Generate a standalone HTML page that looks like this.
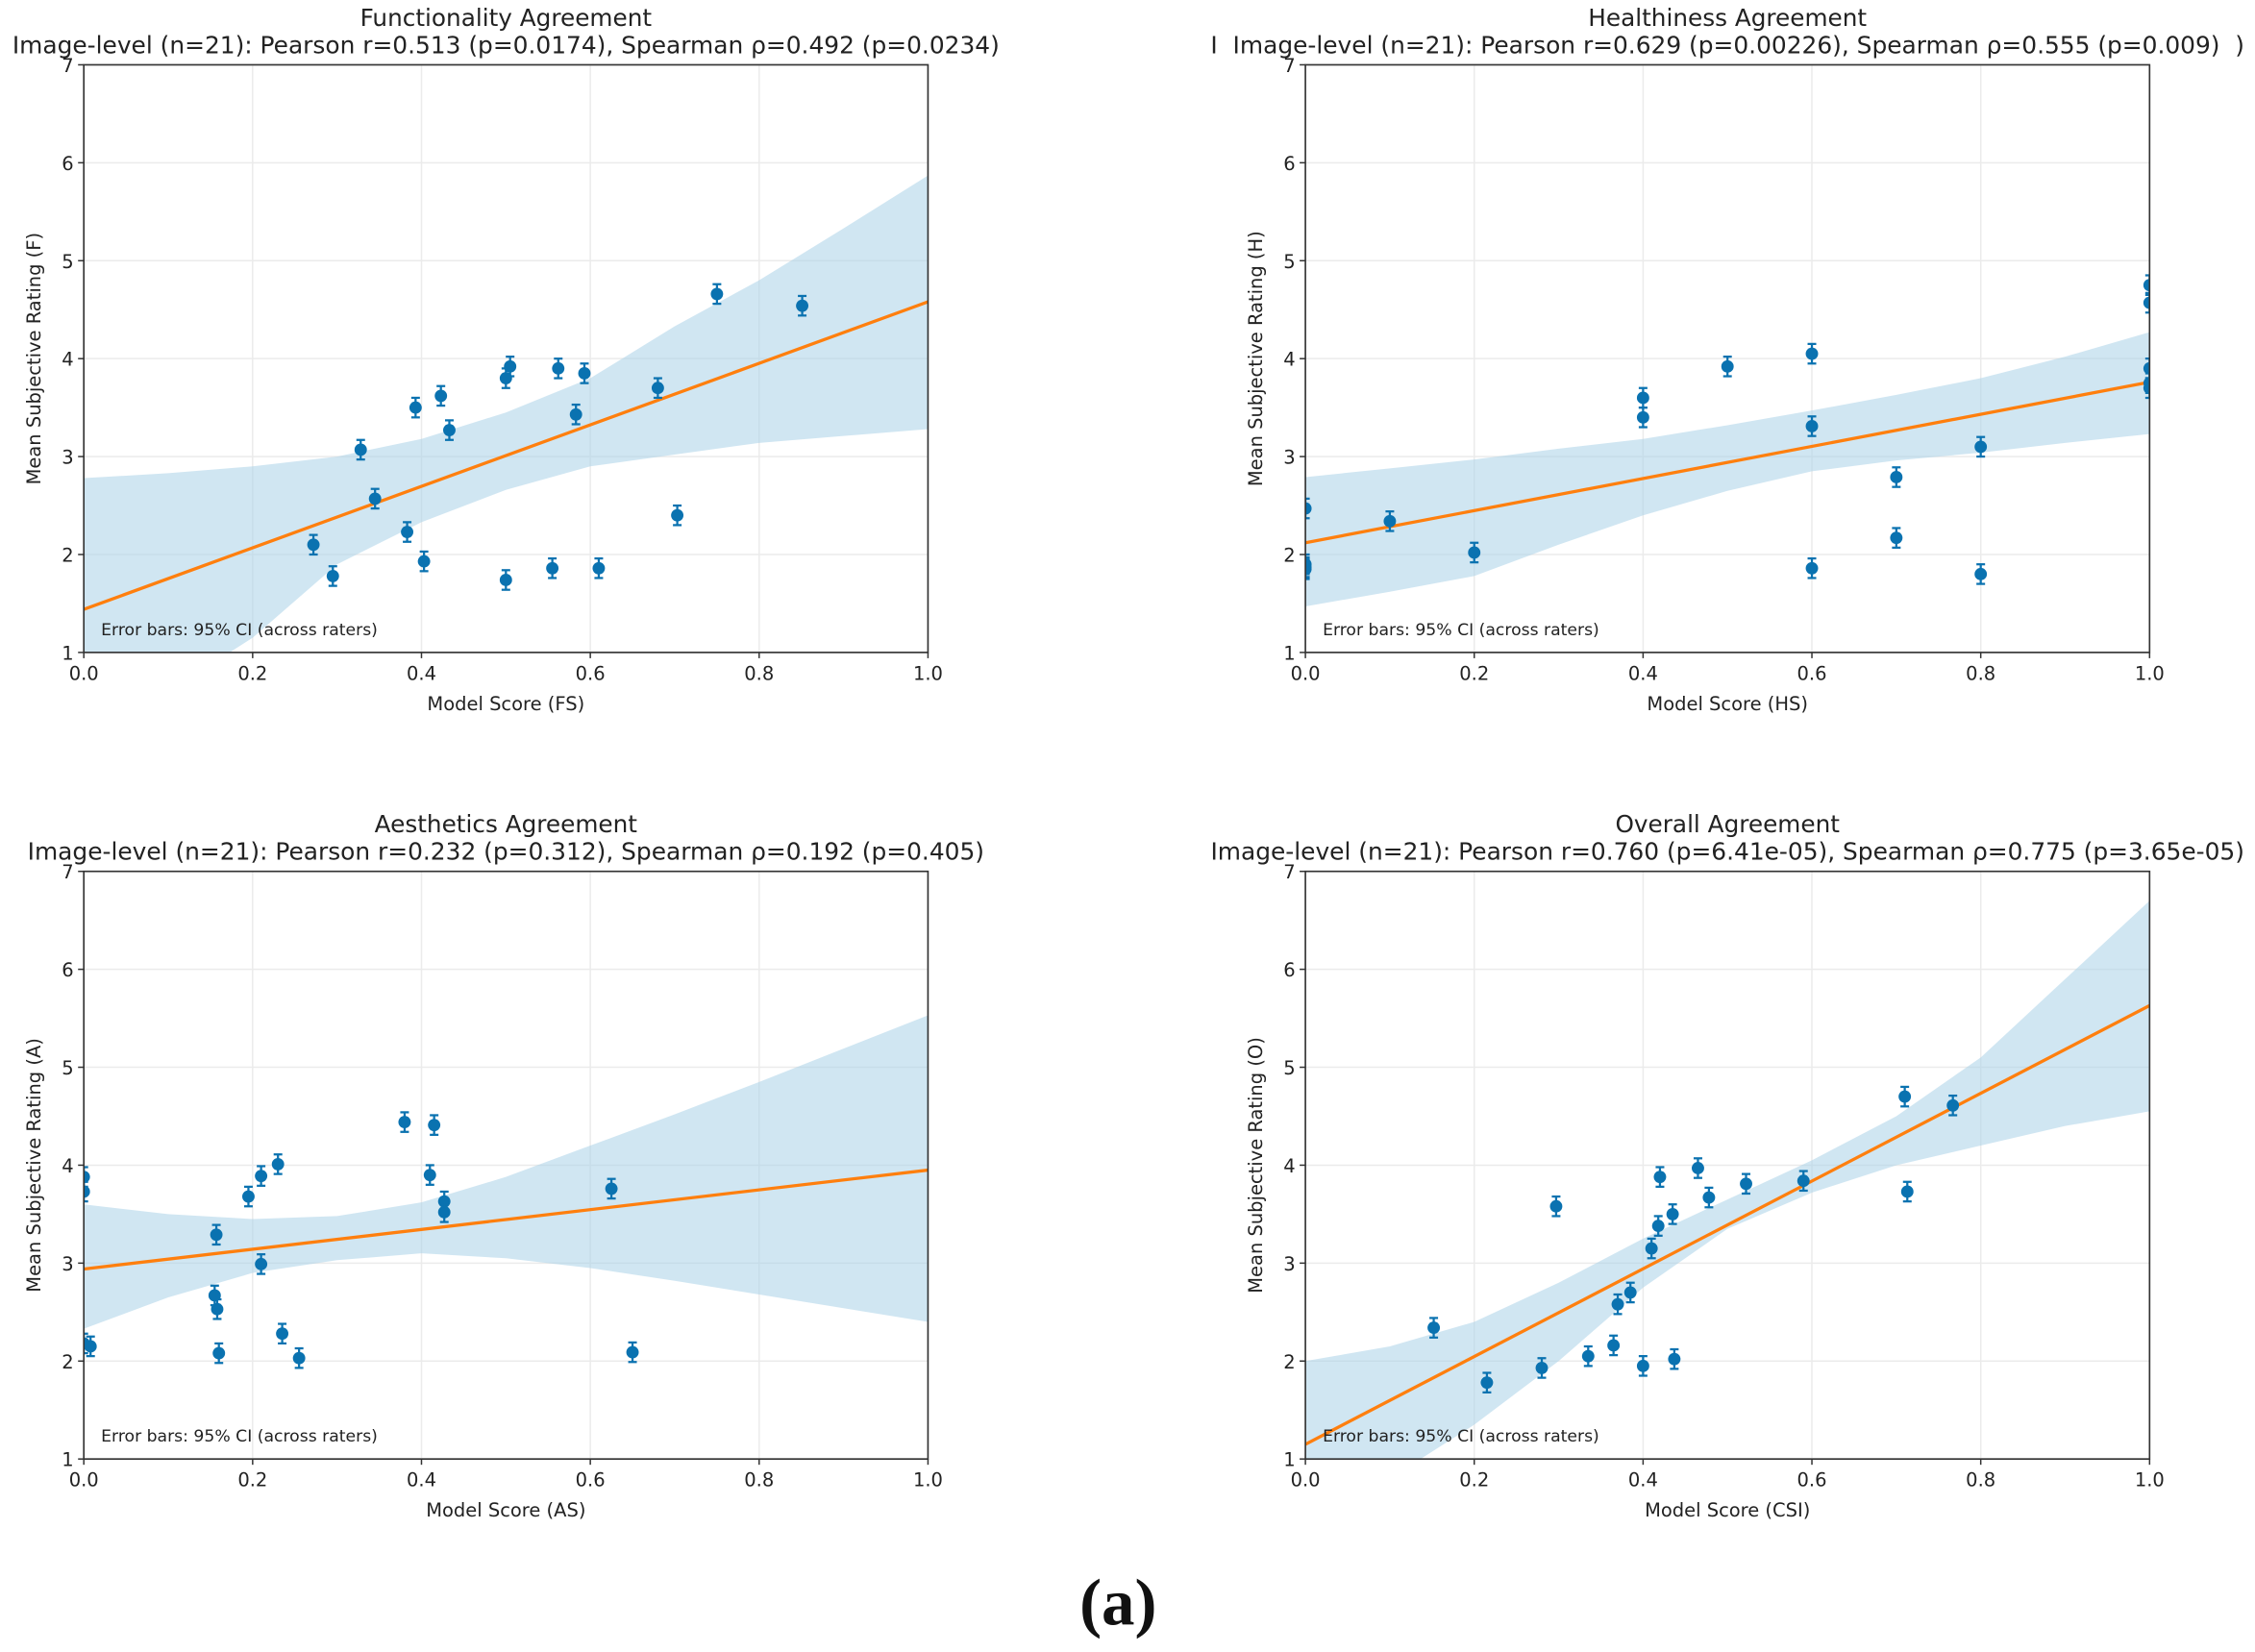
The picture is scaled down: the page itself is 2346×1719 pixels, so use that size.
<!DOCTYPE html>
<html><head><meta charset="utf-8"><style>
html,body{margin:0;padding:0;background:#fff}
svg{display:block}
text{font-family:"DejaVu Sans","Liberation Sans",sans-serif;fill:#222}
</style></head><body>
<svg id="fig" width="2346" height="1719" viewBox="0 0 1565 1147" xmlns="http://www.w3.org/2000/svg">
<text x="776" y="1128" text-anchor="middle" style="font-family:'Liberation Serif',serif;font-size:46px;font-weight:bold;fill:#111">(a)</text>
</svg>
<script>
// ---- data ----
const fX=[0.272,0.295,0.328,0.345,0.383,0.393,0.403,0.423,0.433,0.5,0.5,0.505,0.555,0.562,0.583,0.593,0.61,0.68,0.703,0.75,0.851];
const fY=[2.10,1.78,3.07,2.57,2.23,3.50,1.93,3.62,3.27,1.74,3.80,3.92,1.86,3.90,3.43,3.85,1.86,3.70,2.40,4.66,4.54];
const fLine=[1.44,4.58];
const fUp=[2.78,2.83,2.90,3.00,3.18,3.45,3.80,4.33,4.80,5.33,5.87];
const fLo=[0.10,0.60,1.15,1.90,2.33,2.66,2.90,3.02,3.14,3.21,3.28];

const hX=[0,0,0,0.1,0.2,0.4,0.4,0.5,0.6,0.6,0.6,0.7,0.7,0.8,0.8,1,1,1,1,1,0];
const hY=[2.47,1.87,1.85,2.34,2.02,3.60,3.40,3.92,4.05,3.31,1.86,2.79,2.17,3.10,1.80,4.75,4.57,3.90,3.75,3.70,1.90];
const hLine=[2.12,3.76];
const hUp=[2.79,2.88,2.97,3.08,3.18,3.32,3.47,3.63,3.80,4.02,4.27];
const hLo=[1.47,1.62,1.78,2.10,2.40,2.65,2.85,2.96,3.04,3.14,3.23];

const aX=[0,0,0,0.008,0.155,0.157,0.158,0.16,0.195,0.21,0.21,0.23,0.235,0.255,0.38,0.415,0.41,0.427,0.427,0.625,0.65];
const aY=[3.88,3.73,2.18,2.15,2.67,3.29,2.53,2.08,3.68,3.89,2.99,4.01,2.28,2.03,4.44,4.41,3.90,3.63,3.52,3.76,2.09];
const aLine=[2.94,3.95];
const aUp=[3.60,3.50,3.45,3.48,3.62,3.88,4.20,4.52,4.85,5.19,5.53];
const aLo=[2.33,2.65,2.90,3.03,3.10,3.05,2.95,2.82,2.68,2.54,2.40];

const oX=[0.152,0.215,0.28,0.297,0.335,0.365,0.37,0.385,0.4,0.41,0.418,0.42,0.435,0.437,0.465,0.478,0.522,0.59,0.71,0.713,0.767];
const oY=[2.34,1.78,1.93,3.58,2.05,2.16,2.58,2.70,1.95,3.15,3.38,3.88,3.50,2.02,3.97,3.67,3.81,3.84,4.70,3.73,4.61];
const oLine=[1.15,5.63];
const oUp=[2.00,2.15,2.40,2.80,3.25,3.65,4.05,4.50,5.10,5.90,6.70];
const oLo=[0.30,0.80,1.35,2.00,2.75,3.35,3.72,4.00,4.20,4.40,4.55];

const bandX=[0,0.1,0.2,0.3,0.4,0.5,0.6,0.7,0.8,0.9,1.0];
const xTicks=["0.0","0.2","0.4","0.6","0.8","1.0"];
const yTicks=["1","2","3","4","5","6","7"];

const panels=[
 {key:"functionality",x0:58,y0:45,t1:"Functionality Agreement",t2:"Image-level (n=21): Pearson r=0.513 (p=0.0174), Spearman ρ=0.492 (p=0.0234)",xl:"Model Score (FS)",yl:"Mean Subjective Rating (F)",X:fX,Y:fY,L:fLine,U:fUp,D:fLo},
 {key:"healthiness",x0:906,y0:45,t1:"Healthiness Agreement",t2:"I\u00a0\u00a0Image-level (n=21): Pearson r=0.629 (p=0.00226), Spearman ρ=0.555 (p=0.009)\u00a0\u00a0)",xl:"Model Score (HS)",yl:"Mean Subjective Rating (H)",X:hX,Y:hY,L:hLine,U:hUp,D:hLo},
 {key:"aesthetics",x0:58,y0:605,t1:"Aesthetics Agreement",t2:"Image-level (n=21): Pearson r=0.232 (p=0.312), Spearman ρ=0.192 (p=0.405)",xl:"Model Score (AS)",yl:"Mean Subjective Rating (A)",X:aX,Y:aY,L:aLine,U:aUp,D:aLo},
 {key:"overall",x0:906,y0:605,t1:"Overall Agreement",t2:"Image-level (n=21): Pearson r=0.760 (p=6.41e-05), Spearman ρ=0.775 (p=3.65e-05)",xl:"Model Score (CSI)",yl:"Mean Subjective Rating (O)",X:oX,Y:oY,L:oLine,U:oUp,D:oLo}
];
const W=586,H=408,NS="http://www.w3.org/2000/svg",svg=document.getElementById('fig');
function mk(tag,attrs,parent,txt){const e=document.createElementNS(NS,tag);for(const k in attrs)e.setAttribute(k,attrs[k]);if(txt!==undefined)e.textContent=txt;(parent||svg).appendChild(e);return e;}
panels.forEach((p,pi)=>{
 const sx=v=>p.x0+v*W, sy=v=>p.y0+H-(v-1)/6*H;
 const g=mk('g',{});
 
 
 const cid='clip'+pi;
 const cp=mk('clipPath',{id:cid},g);mk('rect',{x:p.x0,y:p.y0,width:W,height:H},cp);
 xTicks.forEach((t,i)=>{const v=i*0.2;const l=mk('line',{x1:sx(v),x2:sx(v),y1:p.y0,y2:p.y0+H,stroke:'#ebebeb','stroke-width':1},g);
  });
 yTicks.forEach((t,i)=>{const v=i+1;const l=mk('line',{x1:p.x0,x2:p.x0+W,y1:sy(v),y2:sy(v),stroke:'#ebebeb','stroke-width':1},g);
  });
 let d='';bandX.forEach((v,i)=>{d+=(i?'L':'M')+sx(v)+','+sy(p.U[i]);});
 for(let i=bandX.length-1;i>=0;i--)d+='L'+sx(bandX[i])+','+sy(p.D[i]);d+='Z';
 const band=mk('path',{d:d,fill:'#a9d2e8','fill-opacity':0.55,'clip-path':'url(#'+cid+')'},g);
 
 const fl=mk('line',{x1:sx(0),y1:sy(p.L[0]),x2:sx(1),y2:sy(p.L[1]),stroke:'#ff7f0e','stroke-width':2.2,'clip-path':'url(#'+cid+')'},g);
 
 p.X.forEach((xv,i)=>{const cx=sx(xv),cy=sy(p.Y[i]),e=0.1/6*H;
  const pg=mk('g',{'clip-path':'url(#'+cid+')'},g);
  
  mk('line',{x1:cx,x2:cx,y1:cy-e,y2:cy+e,stroke:'#0a72b0','stroke-width':1.5},pg);
  mk('line',{x1:cx-3,x2:cx+3,y1:cy-e,y2:cy-e,stroke:'#0a72b0','stroke-width':1.5},pg);
  mk('line',{x1:cx-3,x2:cx+3,y1:cy+e,y2:cy+e,stroke:'#0a72b0','stroke-width':1.5},pg);
  mk('circle',{cx:cx,cy:cy,r:4.3,fill:'#0a72b0'},pg);
 });
 const fr=mk('rect',{x:p.x0,y:p.y0,width:W,height:H,fill:'none',stroke:'#333','stroke-width':1.1},g);
 
 xTicks.forEach((t,i)=>{const v=i*0.2;mk('line',{x1:sx(v),x2:sx(v),y1:p.y0+H,y2:p.y0+H+4,stroke:'#333'},g);
  const tx=mk('text',{x:sx(v),y:p.y0+H+19,'text-anchor':'middle','font-size':13},g,t);
  });
 yTicks.forEach((t,i)=>{const v=i+1;mk('line',{x1:p.x0-4,x2:p.x0,y1:sy(v),y2:sy(v),stroke:'#333'},g);
  const tx=mk('text',{x:p.x0-7,y:sy(v)+5,'text-anchor':'end','font-size':13},g,t);
  });
 const xl=mk('text',{x:p.x0+W/2,y:p.y0+H+40,'text-anchor':'middle','font-size':13},g,p.xl);
 
 const yx=p.x0-30,yy=p.y0+H/2;
 const yl=mk('text',{x:yx,y:yy,'text-anchor':'middle','font-size':13,transform:'rotate(-90 '+yx+' '+yy+')'},g,p.yl);
 
 const t1=mk('text',{x:p.x0+W/2,y:p.y0-27,'text-anchor':'middle','font-size':16.5},g,p.t1);
 
 const t2=mk('text',{x:p.x0+W/2,y:p.y0-8,'text-anchor':'middle','font-size':16.6},g,p.t2);
 
 const nt=mk('text',{x:p.x0+12,y:p.y0+H-12,'font-size':11.5},g,'Error bars: 95% CI (across raters)');
 
});
</script>
</body></html>
